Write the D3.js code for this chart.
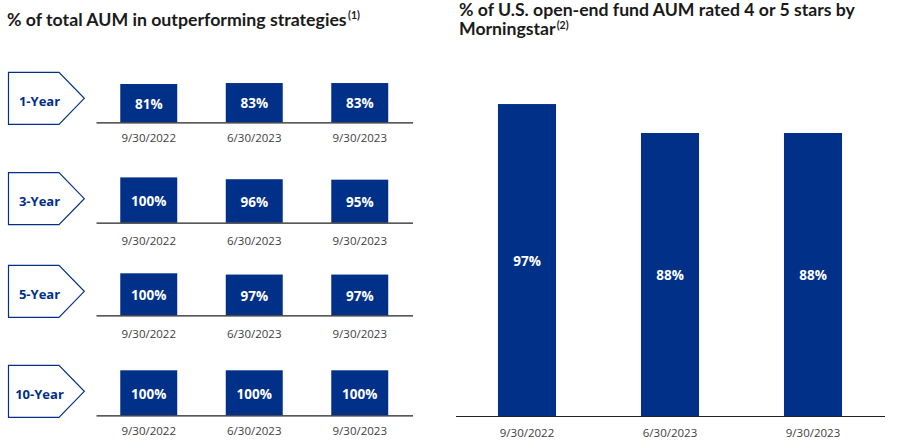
<!DOCTYPE html>
<html>
<head>
<meta charset="utf-8">
<script src="https://cdn.jsdelivr.net/npm/d3@7"></script>
<style>
  html, body { margin: 0; padding: 0; background: #fff; }
  svg { display: block; font-family: "Open Sans", "Noto Sans", sans-serif; }
</style>
</head>
<body>
<svg id="chart" width="898" height="443"></svg>
<script>
// ---- data ----
const dates = ["9/30/2022", "6/30/2023", "9/30/2023"];
const periods = ["1-Year", "3-Year", "5-Year", "10-Year"];
const outperf1Y = [81, 83, 83];
const outperf3Y = [100, 96, 95];
const outperf5Y = [100, 97, 97];
const outperf10Y = [100, 100, 100];
const morningstar4or5 = [97, 88, 88];
const leftTitle = "% of total AUM in outperforming strategies";
const leftNote = "(1)";
const rightTitle1 = "% of U.S. open-end fund AUM rated 4 or 5 stars by";
const rightTitle2 = "Morningstar";
const rightNote = "(2)";

// ---- style / layout ----
const NAVY = "#003087";
const TITLE_FONT = "Lato, 'Open Sans', sans-serif";
const svg = d3.select("#chart");

function fitTitle(sel, target) {
  const w = sel.node().getComputedTextLength();
  const fs = parseFloat(sel.attr("font-size"));
  sel.attr("font-size", (fs * target / w).toFixed(2));
}

// Titles
const lt = svg.append("text").attr("x", 7).attr("y", 25.5).attr("font-family", TITLE_FONT)
  .attr("font-size", 16).attr("font-weight", 700).attr("fill", "#1a1a1a").text(leftTitle);
fitTitle(lt, 340);
svg.append("text").attr("x", 348).attr("y", 19).attr("font-family", TITLE_FONT)
  .attr("font-size", 10.5).attr("font-weight", 700).attr("fill", "#1a1a1a").text(leftNote);

const rt1 = svg.append("text").attr("x", 459).attr("y", 16).attr("font-family", TITLE_FONT)
  .attr("font-size", 16).attr("font-weight", 700).attr("fill", "#1a1a1a").text(rightTitle1);
fitTitle(rt1, 396);
const rt2 = svg.append("text").attr("x", 459).attr("y", 35).attr("font-family", TITLE_FONT)
  .attr("font-size", rt1.attr("font-size")).attr("font-weight", 700).attr("fill", "#1a1a1a").text(rightTitle2);
const rt2w = rt2.node().getComputedTextLength();
svg.append("text").attr("x", 459 + rt2w + 1).attr("y", 29).attr("font-family", TITLE_FONT)
  .attr("font-size", 10.5).attr("font-weight", 700).attr("fill", "#1a1a1a").text(rightNote);

// ---- left panel: small multiples ----
const rows = [outperf1Y, outperf3Y, outperf5Y, outperf10Y];
const baselines = [122.3, 222.7, 315.3, 415.3];
const fullHeights = [47.3, 45.3, 42, 45];
const dateOffsets = [15.5, 18, 18.4, 16];

const xL = d3.scaleBand().domain(dates).range([96, 412.5]).paddingInner(0.46).paddingOuter(0.23);

rows.forEach((vals, i) => {
  const base = baselines[i];
  const y = d3.scaleLinear().domain([0, 100]).range([base, base - fullHeights[i]]);
  const g = svg.append("g");

  // chevron label
  const top = base - 50, bot = base + 2, mid = (top + bot) / 2;
  const path = d3.path();
  path.moveTo(8.5, top); path.lineTo(59, top); path.lineTo(84.3, mid);
  path.lineTo(59, bot); path.lineTo(8.5, bot); path.closePath();
  g.append("path").attr("d", path.toString()).attr("fill", "#fff")
    .attr("stroke", NAVY).attr("stroke-width", 1.2);
  g.append("text").attr("x", 39.5).attr("y", mid + 3).attr("dy", "0.35em")
    .attr("text-anchor", "middle").attr("font-size", 13).attr("font-weight", 700)
    .attr("fill", NAVY).text(periods[i]);

  // bars
  g.selectAll("rect.bar").data(vals).join("rect").attr("class", "bar")
    .attr("x", (d, j) => xL(dates[j])).attr("width", xL.bandwidth())
    .attr("y", d => y(d)).attr("height", d => y(0) - y(d)).attr("fill", NAVY);
  g.selectAll("text.val").data(vals).join("text").attr("class", "val")
    .attr("x", (d, j) => xL(dates[j]) + xL.bandwidth() / 2)
    .attr("y", d => (y(d) + y(0)) / 2 + 1).attr("dy", "0.35em")
    .attr("text-anchor", "middle").attr("font-size", 13.5).attr("font-weight", 700)
    .attr("fill", "#fff").text(d => d + "%");

  // axis baseline + labels
  const axis = d3.axisBottom(xL).tickSize(0).tickPadding(0);
  const ag = g.append("g").attr("transform", `translate(0,${base})`).call(axis);
  ag.select(".domain").attr("stroke", "#222").attr("stroke-width", 1.2);
  ag.selectAll(".tick text").attr("font-family", "'Open Sans', sans-serif")
    .attr("font-size", 11.5).attr("fill", "#404040")
    .attr("y", dateOffsets[i]).attr("dy", "0.35em");
});

// ---- right panel ----
const xR = d3.scaleBand().domain(dates).range([455.5, 884.5]).paddingInner(0.594).paddingOuter(0.297);
const yR = d3.scaleLinear().domain([0, 100]).range([416, 94.4]);
const rg = svg.append("g");
rg.selectAll("rect").data(morningstar4or5).join("rect")
  .attr("x", (d, j) => xR(dates[j])).attr("width", xR.bandwidth())
  .attr("y", d => yR(d)).attr("height", d => yR(0) - yR(d)).attr("fill", NAVY);
rg.selectAll("text.val").data(morningstar4or5).join("text").attr("class", "val")
  .attr("x", (d, j) => xR(dates[j]) + xR.bandwidth() / 2)
  .attr("y", d => (yR(d) + yR(0)) / 2 + 1).attr("dy", "0.35em")
  .attr("text-anchor", "middle").attr("font-size", 13.5).attr("font-weight", 700)
  .attr("fill", "#fff").text(d => d + "%");
const axR = rg.append("g").attr("transform", "translate(0,416)")
  .call(d3.axisBottom(xR).tickSize(0).tickPadding(0));
axR.select(".domain").attr("stroke", "#222").attr("stroke-width", 1.2);
axR.selectAll(".tick text").attr("font-family", "'Open Sans', sans-serif")
  .attr("font-size", 11.5).attr("fill", "#404040").attr("y", 17).attr("dy", "0.35em");
</script>
</body>
</html>
